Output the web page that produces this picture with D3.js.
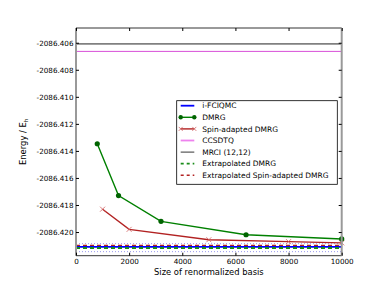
<!DOCTYPE html>
<html>
<head>
<meta charset="utf-8">
<script src="https://cdn.jsdelivr.net/npm/d3@7"></script>
<style>
body { margin: 0; background: #fff; }
text { font-family: "DejaVu Sans", sans-serif; }
</style>
</head>
<body>
<div id="chart"></div>
<script>
const dmrgX = [800, 1600, 3200, 6400, 10000];
const dmrgY = [-2086.41347, -2086.41730, -2086.41921, -2086.42020, -2086.42051];
const spinX = [1000, 2000, 5000, 8000, 10000];
const spinY = [-2086.41831, -2086.41980, -2086.42057, -2086.42071, -2086.42080];
const fciqmc = -2086.42110;
const fciqmcErr = [-2086.42086, -2086.42145];
const ccsdtq = -2086.40664;
const mrci = -2086.40608;
const extrapDmrg = -2086.42118;
const extrapSpin = -2086.42098;
const xTicks = [0, 2000, 4000, 6000, 8000, 10000];
const yTicks = [-2086.406, -2086.408, -2086.410, -2086.412, -2086.414, -2086.416, -2086.418, -2086.420];
const legendNames = ["i-FCIQMC", "DMRG", "Spin-adapted DMRG", "CCSDTQ", "MRCI (12,12)", "Extrapolated DMRG", "Extrapolated Spin-adapted DMRG"];

const margin = { top: 28, right: 38.3, bottom: 29.3, left: 76 };
const width = 380 - margin.left - margin.right;
const height = 285 - margin.top - margin.bottom;

const svg = d3.select("#chart")
    .append("svg")
    .attr("width", 380)
    .attr("height", 285)
    .append("g")
    .attr("transform", `translate(${margin.left},${margin.top})`);

const x = d3.scaleLinear().domain([0, 10000]).range([0, width]);
const y = d3.scaleLinear().domain([-2086.42175, -2086.40491]).range([height, 0]);

// horizontal reference lines
function hline(v, color, w, dash) {
    svg.append("line")
        .attr("x1", x(0)).attr("x2", x(10000))
        .attr("y1", y(v)).attr("y2", y(v))
        .attr("stroke", color)
        .attr("stroke-width", w)
        .attr("stroke-dasharray", dash || null);
}
hline(mrci, "#808080", 1.8);
hline(ccsdtq, "#d850d8", 1);
fciqmcErr.forEach(v => hline(v, "#9a9aee", 1, "1,2"));
hline(extrapSpin, "#b22222", 1.2, "4,3");
hline(fciqmc, "#0000ff", 1.8);
hline(extrapDmrg, "#1a8c1a", 2, "4,3");

const line = d3.line().x(d => x(d[0])).y(d => y(d[1]));

const spinPts = spinX.map((v, i) => [v, spinY[i]]);
svg.append("path")
    .datum(spinPts)
    .attr("d", line)
    .attr("fill", "none")
    .attr("stroke", "#b22222")
    .attr("stroke-width", 1.4);
svg.selectAll(".xm")
    .data(spinPts)
    .enter()
    .append("path")
    .attr("class", "xm")
    .attr("d", "M-2.5,-2.5L2.5,2.5M-2.5,2.5L2.5,-2.5")
    .attr("transform", d => `translate(${x(d[0])},${y(d[1])})`)
    .attr("stroke", "#d06060")
    .attr("stroke-width", 0.8);

const dmrgPts = dmrgX.map((v, i) => [v, dmrgY[i]]);
svg.append("path")
    .datum(dmrgPts)
    .attr("d", line)
    .attr("fill", "none")
    .attr("stroke", "#008000")
    .attr("stroke-width", 1.4);
svg.selectAll(".dot")
    .data(dmrgPts)
    .enter()
    .append("circle")
    .attr("class", "dot")
    .attr("cx", d => x(d[0]))
    .attr("cy", d => y(d[1]))
    .attr("r", 2.6)
    .attr("fill", "#006400");

// frame
svg.append("line").attr("x1", 0).attr("x2", width).attr("y1", 0).attr("y2", 0).attr("stroke", "#000").attr("stroke-width", 0.8);
svg.append("line").attr("x1", 0).attr("x2", width).attr("y1", height).attr("y2", height).attr("stroke", "#000").attr("stroke-width", 0.8);
svg.append("line").attr("x1", 0).attr("x2", 0).attr("y1", 0).attr("y2", height).attr("stroke", "#999").attr("stroke-width", 2);
svg.append("line").attr("x1", width).attr("x2", width).attr("y1", 0).attr("y2", height).attr("stroke", "#999").attr("stroke-width", 2);

const xAxis = svg.append("g")
    .attr("transform", `translate(0,${height})`)
    .call(d3.axisBottom(x).tickValues(xTicks).tickSizeInner(-3).tickSizeOuter(0).tickPadding(3.5).tickFormat(d3.format("d")));
const xTop = svg.append("g")
    .call(d3.axisTop(x).tickValues(xTicks).tickSizeInner(-3).tickSizeOuter(0).tickFormat(""));
const yAxis = svg.append("g")
    .call(d3.axisLeft(y).tickValues(yTicks).tickSizeInner(-3).tickSizeOuter(0).tickPadding(2.5).tickFormat(d => d.toFixed(3)));
const yRight = svg.append("g")
    .attr("transform", `translate(${width},0)`)
    .call(d3.axisRight(y).tickValues(yTicks).tickSizeInner(-3).tickSizeOuter(0).tickFormat(""));
[xAxis, xTop, yAxis, yRight].forEach(g => {
    g.select(".domain").remove();
    g.selectAll("text").style("font-size", "7.2px").attr("fill", "#000");
});

svg.append("text")
    .attr("x", width / 2)
    .attr("y", height + 19)
    .attr("text-anchor", "middle")
    .style("font-size", "8.4px")
    .text("Size of renormalized basis");

const yl = svg.append("text")
    .attr("transform", `translate(-50,${height / 2}) rotate(-90)`)
    .attr("text-anchor", "middle")
    .style("font-size", "8.4px");
yl.append("tspan").text("Energy / E");
yl.append("tspan").attr("dy", 2).style("font-size", "5.5px").text("h");

// legend
const lg = svg.append("g").attr("transform", `translate(${176.7 - margin.left},${100.7 - margin.top})`);
lg.append("rect")
    .attr("width", 160.6).attr("height", 83.6)
    .attr("fill", "#fff").attr("stroke", "#000").attr("stroke-width", 0.8);
const handles = [
    { color: "#0000ff", w: 1.8 },
    { color: "#008000", w: 1.4, marker: "dot" },
    { color: "#b22222", w: 1.4, marker: "x" },
    { color: "#ee82ee", w: 1.8 },
    { color: "#000", w: 0.8 },
    { color: "#1a8c1a", w: 1.8, dash: "3,3" },
    { color: "#b22222", w: 1.4, dash: "3,3" }
];
legendNames.forEach((name, i) => {
    const gy = 5 + i * 11.6;
    const h = handles[i];
    lg.append("line")
        .attr("x1", 4).attr("x2", 17.6).attr("y1", gy).attr("y2", gy)
        .attr("stroke", h.color).attr("stroke-width", h.w)
        .attr("stroke-dasharray", h.dash || null);
    [4, 17.6].forEach(px => {
        if (h.marker === "dot") {
            lg.append("circle").attr("cx", px).attr("cy", gy).attr("r", 2.2).attr("fill", "#006400");
        } else if (h.marker === "x") {
            lg.append("path").attr("d", "M-2,-2L2,2M-2,2L2,-2")
                .attr("transform", `translate(${px},${gy})`)
                .attr("stroke", "#d06060").attr("stroke-width", 0.8);
        }
    });
    lg.append("text")
        .attr("x", 25.6).attr("y", gy)
        .attr("dy", "0.35em")
        .style("font-size", "7.5px")
        .text(name);
});
</script>
</body>
</html>
